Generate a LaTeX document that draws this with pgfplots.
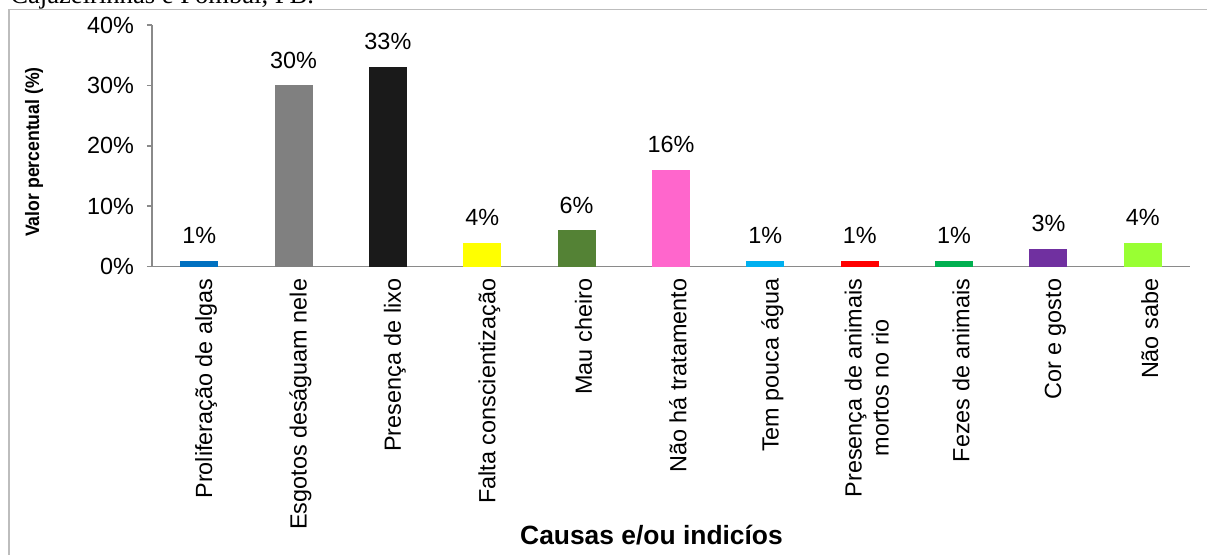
\documentclass[border=0pt]{standalone}
\usepackage{fontspec}
\setmainfont{Liberation Sans}
\newfontfamily\titleserif{Liberation Serif}
\usepackage{graphicx}
\usepackage{pgfplots}
\pgfplotsset{compat=1.18}

\definecolor{cBlue}{HTML}{0070C0}
\definecolor{cGray}{HTML}{808080}
\definecolor{cBlack}{HTML}{1A1A1A}
\definecolor{cYellow}{HTML}{FFFF00}
\definecolor{cOlive}{HTML}{548235}
\definecolor{cPink}{HTML}{FF66CC}
\definecolor{cSky}{HTML}{00B0F0}
\definecolor{cRed}{HTML}{FF0000}
\definecolor{cGreen}{HTML}{00B050}
\definecolor{cPurple}{HTML}{7030A0}
\definecolor{cLime}{HTML}{99FF33}
\definecolor{axisgray}{HTML}{8A8A8A}
\definecolor{framegray}{HTML}{BDBDBD}

\begin{document}
\begin{tikzpicture}
% page area and clipping
\path[use as bounding box] (-76pt,-144.15pt) rectangle (527.5pt,133.35pt);
\clip (-76pt,-144.15pt) rectangle (527.5pt,133.35pt);

% caption line above the frame
\node[anchor=base west, inner sep=0pt, font=\titleserif\fontsize{13.3pt}{15pt}\selectfont]
  at (-71pt,131.6pt) {Cajazeirinhas e Pombal, PB.};

% chart frame
\draw[framegray, line width=0.8pt] (-71.5pt,-150pt) -- (-71.5pt,128.6pt) -- (535pt,128.6pt);

\begin{axis}[
  at={(0pt,0pt)}, anchor=south west,
  scale only axis,
  width=519pt, height=120.85pt,
  xmin=-0.5, xmax=10.5,
  ymin=0, ymax=40,
  axis lines*=left,
  axis line style={draw=axisgray, line width=0.8pt, -},
  ytick={0,10,20,30,40},
  yticklabels={0\%,10\%,20\%,30\%,40\%},
  ytick style={draw=axisgray, line width=0.8pt},
  major tick length=2.5pt,
  tick align=outside,
  yticklabel style={font=\fontsize{11.7pt}{13pt}\selectfont, xshift=-3pt},
  xtick={0,1,2,3,4,5,6,7,8,9,10},
  xtick style={draw=none},
  xticklabels={
    {Proliferação de algas},
    {Esgotos deságuam nele},
    {Presença de lixo},
    {Falta conscientização},
    {Mau cheiro},
    {Não há tratamento},
    {Tem pouca água},
    {Presença de animais\\mortos no rio},
    {Fezes de animais},
    {Cor e gosto},
    {Não sabe}},
  xticklabel style={font=\fontsize{11.7pt}{13.5pt}\selectfont, rotate=90, anchor=east, align=center, yshift=-3.5pt},
  ybar, bar width=19pt, bar shift=0pt,
  every axis plot/.append style={draw=none},
  /pgf/number format/assume math mode=true,
  nodes near coords={\pgfmathprintnumber{\pgfplotspointmeta}\%},
  nodes near coords style={font=\fontsize{11.7pt}{13pt}\selectfont, text=black, yshift=5pt},
  clip=false,
]
\addplot[fill=cBlue]   coordinates {(0,1)};
\addplot[fill=cGray]   coordinates {(1,30)};
\addplot[fill=cBlack]  coordinates {(2,33)};
\addplot[fill=cYellow] coordinates {(3,4)};
\addplot[fill=cOlive]  coordinates {(4,6)};
\addplot[fill=cPink]   coordinates {(5,16)};
\addplot[fill=cSky]    coordinates {(6,1)};
\addplot[fill=cRed]    coordinates {(7,1)};
\addplot[fill=cGreen]  coordinates {(8,1)};
\addplot[fill=cPurple] coordinates {(9,3)};
\addplot[fill=cLime]   coordinates {(10,4)};
\end{axis}

% axis titles
\node[rotate=90, font=\bfseries\fontsize{9.7pt}{11pt}\selectfont] at (-59pt,57.35pt) {\scalebox{0.91}[1]{Valor percentual (\%)}};
\node[anchor=base, inner sep=0pt, font=\bfseries\fontsize{13.2pt}{15pt}\selectfont] at (249.75pt,-139.15pt) {Causas e/ou indicíos};
\end{tikzpicture}
\end{document}
